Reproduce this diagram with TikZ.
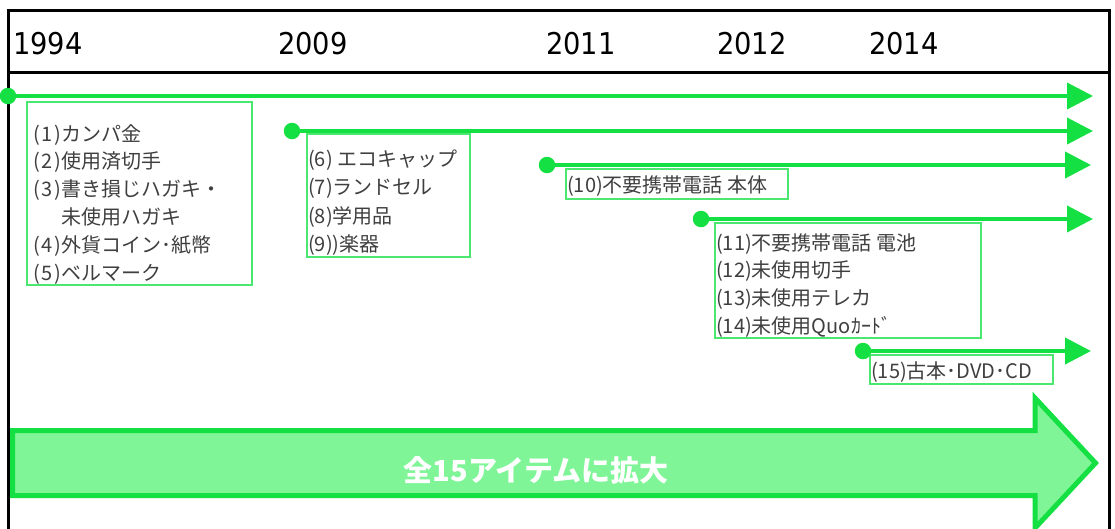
\documentclass[tikz,border=0pt]{standalone}
\usepackage{fontspec}
\setmainfont{DejaVu Sans}
\newfontfamily\jpfont{Noto Sans CJK JP}
\newfontfamily\yearfont[FakeStretch=0.91]{DejaVu Sans}
\usetikzlibrary{
arrows.meta,
positioning,
}
\definecolor{linegreen}{HTML}{14E043}
\definecolor{boxgreen}{HTML}{4AE870}
\definecolor{fillgreen}{HTML}{80F598}
\definecolor{itemgray}{HTML}{3F3F3F}
\tikzset{
frame/.style={draw=black, line width=3pt},
year/.style={anchor=base west, inner sep=0pt, font=\yearfont\fontsize{30}{36}\selectfont},
start/.style={circle, fill=linegreen, inner sep=0pt, minimum size=16.5pt},
timeline/.style={draw=linegreen, line width=4pt, -{Triangle[length=26pt, width=26pt]}},
itembox/.style={draw=boxgreen, line width=1.5pt},
items/.style={anchor=north west, inner sep=0pt, align=left, text=itemgray,
  font=\jpfont\fontsize{20}{27.8}\selectfont, execute at begin node=\strut},
expand/.style={draw=linegreen, line width=5pt, fill=fillgreen, line join=miter},
}
\newcommand{\pno}[1]{(\kern1.5pt#1\kern1.5pt)\kern1pt}

\begin{document}
\begin{tikzpicture}[x=1pt, y=-1pt]
    \clip (0,0) rectangle (1115,528);

    % frame and years
    \draw[frame] (8.5,540) -- (8.5,10.5) -- (1109,10.5) -- (1109,540);
    \draw[frame] (8.5,72) -- (1109,72);
    \node[year] (y1994) at (13,54) {1994};
    \node[year] (y2009) at (278,54) {2009};
    \node[year] (y2011) at (546,54) {2011};
    \node[year] (y2012) at (717,54) {2012};
    \node[year] (y2014) at (869,54) {2014};

    % big arrow
    \draw[expand] (12.5,430.5) -| (1035,398) -- (1095.5,463) -- (1035,528) |- (12.5,495.5) -- cycle;
    \node[text=white, font=\jpfont\bfseries\fontsize{29}{34}\selectfont] (total) at (536,470) {全15アイテムに拡大};

    % item boxes
    \draw[itembox] (27,102) rectangle (252,285);
    \draw[itembox] (307,134) rectangle (470,257);
    \draw[itembox] (566,169) rectangle (788,199);
    \draw[itembox] (715,223) rectangle (981,338);
    \draw[itembox] (870,355) rectangle (1053,384);

    \node[items] (list1) at (33,124) {\pno{1}カンパ金\\\pno{2}使用済切手\\\pno{3}書き損じハガキ・\\\phantom{\pno{3}}未使用ハガキ\\\pno{4}外貨コイン･紙幣\\\pno{5}ベルマーク};
    \node[items, font=\jpfont\fontsize{20}{28.5}\selectfont] (list2) at (308,149.5) {(6) エコキャップ\\(7)ランドセル\\(8)学用品\\(9))楽器};
    \node[items] (list3) at (567,173) {(10)不要携帯電話 本体};
    \node[items] (list4) at (716,233) {(11)不要携帯電話 電池\\(12)未使用切手\\(13)未使用テレカ\\(14)未使用Quoｶｰﾄﾞ};
    \node[items] (list5) at (871,359) {(15)古本･DVD･CD};

    % timelines
    \node[start] (s1994) at (8,96) {};
    \node[start] (s2009) at (292,131) {};
    \node[start] (s2011) at (547,165) {};
    \node[start] (s2012) at (701,219) {};
    \node[start] (s2014) at (863,351) {};
    \coordinate (e1994) at (1093,96);
    \coordinate (e2009) at (1093,131);
    \coordinate (e2011) at (1091,165);
    \coordinate (e2012) at (1093,219);
    \coordinate (e2014) at (1091,351);
    \foreach \yr in {1994,2009,2011,2012,2014}
        \draw[timeline] (s\yr) -- (e\yr);
\end{tikzpicture}
\end{document}
